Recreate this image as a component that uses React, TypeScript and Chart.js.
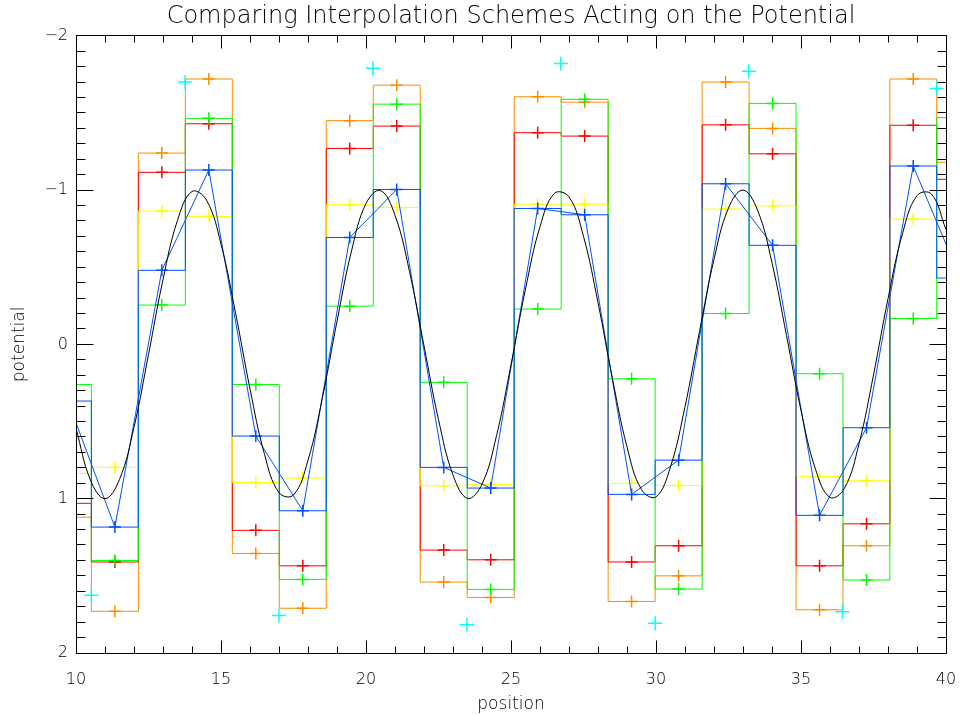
import React, { useEffect, useRef } from 'react';
import { Chart, registerables } from 'chart.js';

Chart.register(...registerables);

const TITLE = 'Comparing Interpolation Schemes Acting on the Potential';
const X_LABEL = 'position';
const Y_LABEL = 'potential';

// cell centres (grid cells), values read per cell
const cellCenters = [9.72, 11.34, 12.96, 14.58, 16.2, 17.82, 19.44, 21.06, 22.68, 24.3, 25.92, 27.54, 29.16, 30.78, 32.4, 34.02, 35.64, 37.26, 38.87, 40.49];
const orangeValues = [1.12, 1.73, -1.24, -1.72, 1.355, 1.71, -1.45, -1.68, 1.54, 1.64, -1.605, -1.57, 1.666, 1.5, -1.7, -1.4, 1.72, 1.305, -1.72, -1.18];
const redValues = [1.03, 1.41, -1.115, -1.43, 1.205, 1.435, -1.27, -1.415, 1.333, 1.396, -1.372, -1.35, 1.41, 1.305, -1.423, -1.235, 1.435, 1.163, -1.42, -1.07];
const greenValues = [0.26, 1.4, -0.255, -1.465, 0.26, 1.523, -0.248, -1.557, 0.246, 1.588, -0.229, -1.588, 0.223, 1.586, -0.2, -1.562, 0.19, 1.527, -0.168, -1.47];
const yellowValues = [0.836, 0.797, -0.864, -0.83, 0.895, 0.866, -0.905, -0.888, 0.916, 0.907, -0.909, -0.909, 0.901, 0.914, -0.877, -0.898, 0.856, 0.884, -0.812, -0.849];
const blueValues = [0.367, 1.184, -0.48, -1.13, 0.594, 1.078, -0.693, -1.004, 0.797, 0.931, -0.881, -0.84, 0.972, 0.75, -1.041, -0.642, 1.108, 0.54, -1.156, -0.43];

// cyan markers at cell edges
const cyanX = [10.53, 13.76, 17.0, 20.24, 23.48, 26.72, 29.97, 33.2, 36.43, 39.68];
const cyanValues = [1.625, -1.7, 1.757, -1.789, 1.817, -1.821, 1.808, -1.771, 1.733, -1.659];

// exact potential (black curve), read along the x axis
const curveX = [10, 10.5, 11, 11.5, 12, 12.5, 13, 13.5, 14, 14.5, 15, 15.5, 16, 16.5, 17, 17.5, 18, 18.5, 19, 19.5, 20, 20.5, 21, 21.5, 22, 22.5, 23, 23.5, 24, 24.5, 25, 25.5, 26, 26.5, 27, 27.5, 28, 28.5, 29, 29.5, 30, 30.5, 31, 31.5, 32, 32.5, 33, 33.5, 34, 34.5, 35, 35.5, 36, 36.5, 37, 37.5, 38, 38.5, 39, 39.5, 40];
const curveValues = [0.544, 0.88, 1.0, 0.875, 0.537, 0.066, -0.42, -0.804, -0.991, -0.935, -0.65, -0.206, 0.288, 0.712, 0.961, 0.976, 0.751, 0.343, -0.15, -0.605, -0.913, -0.997, -0.837, -0.472, 0.009, 0.487, 0.846, 0.998, 0.906, 0.592, 0.132, -0.359, -0.763, -0.979, -0.956, -0.7, -0.271, 0.224, 0.664, 0.941, 0.988, 0.793, 0.404, -0.084, -0.551, -0.884, -1.0, -0.871, -0.529, -0.058, 0.428, 0.809, 0.992, 0.932, 0.644, 0.198, -0.296, -0.718, -0.964, -0.974, -0.745];

const X_MIN = 10;
const X_MAX = 40;
const Y_MIN = -2;
const Y_MAX = 2;

const ORANGE = 'rgb(255,140,0)';
const RED = 'rgb(255,0,0)';
const GREEN = 'rgb(0,255,0)';
const YELLOW = 'rgb(255,255,0)';
const BLUE = 'rgb(0,80,255)';
const CYAN = 'rgb(0,255,255)';

const FONT = "'DejaVu Sans', sans-serif";
const WEIGHT = '300';

const pts = (xs: number[], ys: number[]) => xs.map((x, i) => ({ x, y: ys[i] }));

const stepSet = (label: string, values: number[], color: string) => ({
  label,
  data: pts(cellCenters, values),
  borderColor: color,
  backgroundColor: color,
  borderWidth: 1,
  stepped: 'middle' as const,
  pointStyle: 'cross' as const,
  pointRadius: 6,
  pointBorderWidth: 1.5,
  pointBorderColor: color,
  fill: false,
});

const frameTicks = {
  id: 'frameTicks',
  afterDatasetsDraw(chart: any) {
    const { ctx, chartArea: a, scales } = chart;
    const xs = scales.x;
    const ys = scales.y;
    const L = Math.floor(a.left) + 0.5;
    const R = Math.floor(a.right) + 0.5;
    const T = Math.floor(a.top) + 0.5;
    const B = Math.floor(a.bottom) + 0.5;
    ctx.save();
    ctx.strokeStyle = '#000';
    ctx.lineWidth = 1;
    ctx.beginPath();
    ctx.rect(L, T, R - L, B - T);
    for (let v = X_MIN; v <= X_MAX; v += 1) {
      const len = v % 5 === 0 ? 13 : 7;
      const px = Math.floor(xs.getPixelForValue(v)) + 0.5;
      ctx.moveTo(px, B);
      ctx.lineTo(px, B - len);
      ctx.moveTo(px, T);
      ctx.lineTo(px, T + len);
    }
    for (let i = Y_MIN * 10; i <= Y_MAX * 10; i++) {
      const len = i % 10 === 0 ? 17 : 9;
      const py = Math.floor(ys.getPixelForValue(i / 10)) + 0.5;
      ctx.moveTo(L, py);
      ctx.lineTo(L + len, py);
      ctx.moveTo(R, py);
      ctx.lineTo(R - len, py);
    }
    ctx.stroke();
    ctx.restore();
  },
};

export default function App() {
  const ref = useRef<HTMLCanvasElement>(null);
  useEffect(() => {
    Chart.defaults.font.family = FONT;
    Chart.defaults.font.weight = WEIGHT as any;
    Chart.defaults.color = '#000';
    const chart = new Chart(ref.current as HTMLCanvasElement, {
      type: 'line',
      data: {
        datasets: [
          {
            label: 'cyan',
            data: pts(cyanX, cyanValues),
            showLine: false,
            borderColor: CYAN,
            backgroundColor: CYAN,
            pointStyle: 'cross',
            pointRadius: 7,
            pointBorderWidth: 1.5,
            pointBorderColor: CYAN,
          },
          {
            label: 'exact',
            data: pts(curveX, curveValues),
            borderColor: '#000',
            borderWidth: 1,
            pointRadius: 0,
            tension: 0.4,
            fill: false,
          },
          {
            label: 'blue line',
            data: pts(cellCenters, blueValues),
            borderColor: BLUE,
            borderWidth: 1,
            pointStyle: 'cross',
            pointRadius: 6,
            pointBorderWidth: 1.5,
            pointBorderColor: BLUE,
            fill: false,
          },
          { ...stepSet('blue step', blueValues, BLUE), pointRadius: 0 },
          stepSet('green', greenValues, GREEN),
          stepSet('yellow', yellowValues, YELLOW),
          stepSet('red', redValues, RED),
          stepSet('orange', orangeValues, ORANGE),
        ],
      },
      options: {
        responsive: false,
        animation: false,
        layout: { padding: { left: 0, right: 17, top: 0, bottom: 0 } },
        plugins: {
          legend: { display: false },
          tooltip: { enabled: false },
          title: {
            display: true,
            fullSize: false,
            text: TITLE,
            color: '#000',
            font: { size: 24, family: FONT, weight: WEIGHT },
            padding: { top: 2, bottom: 5 },
          },
        },
        scales: {
          x: {
            type: 'linear',
            min: X_MIN,
            max: X_MAX,
            grid: { display: true, color: 'rgba(0,0,0,0)', drawOnChartArea: false, drawTicks: true, tickLength: 17 },
            border: { display: false },
            ticks: { stepSize: 5, font: { size: 16, weight: WEIGHT }, color: '#000', padding: 0, maxRotation: 0, autoSkip: false },
            title: { display: true, text: X_LABEL, color: '#000', font: { size: 17, weight: WEIGHT }, padding: { top: 0, bottom: 0 } },
            afterFit: (s: any) => {
              s.height = 62;
            },
          },
          y: {
            type: 'linear',
            min: Y_MIN,
            max: Y_MAX,
            reverse: true,
            grid: { display: false, drawTicks: false },
            border: { display: false },
            ticks: {
              stepSize: 1,
              font: { size: 16, weight: WEIGHT },
              color: '#000',
              padding: 8,
              callback: (v: any) => (Number(v) < 0 ? '\u2212' + Math.abs(Number(v)) : String(v)),
            },
            title: { display: true, text: Y_LABEL, color: '#000', font: { size: 17, weight: WEIGHT }, padding: { top: 9, bottom: 0 } },
            afterFit: (s: any) => {
              s.width = 76;
            },
          },
        },
      },
      plugins: [frameTicks],
    } as any);
    return () => chart.destroy();
  }, []);
  return (
    <div style={{ position: 'fixed', left: 0, top: 0, width: 963, height: 715, background: '#fff' }}>
      <canvas ref={ref} width={963} height={715} style={{ display: 'block' }} />
    </div>
  );
}
